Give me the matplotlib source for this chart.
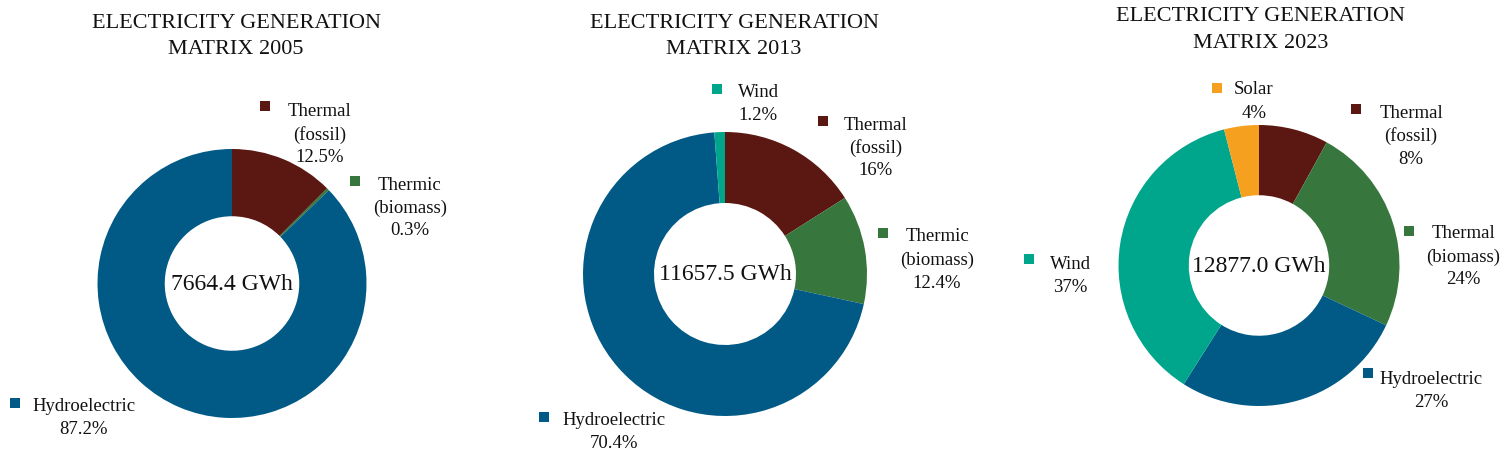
import matplotlib
matplotlib.use("Agg")
import matplotlib.pyplot as plt
from matplotlib.patches import Rectangle

W, H = 1502, 452
plt.rcParams['font.family'] = ['Liberation Serif', 'DejaVu Serif']

# ---------------- data ----------------
titles = ["ELECTRICITY GENERATION\nMATRIX 2005",
          "ELECTRICITY GENERATION\nMATRIX 2013",
          "ELECTRICITY GENERATION\nMATRIX 2023"]
totals = ["7664.4 GWh", "11657.5 GWh", "12877.0 GWh"]

cats_2005 = ["Thermal\n(fossil)", "Thermic\n(biomass)", "Hydroelectric"]
vals_2005 = [12.5, 0.3, 87.2]
pct_2005 = ["12.5%", "0.3%", "87.2%"]

cats_2013 = ["Thermal\n(fossil)", "Thermic\n(biomass)", "Hydroelectric", "Wind"]
vals_2013 = [16.0, 12.4, 70.4, 1.2]
pct_2013 = ["16%", "12.4%", "70.4%", "1.2%"]

cats_2023 = ["Thermal\n(fossil)", "Thermal\n(biomass)", "Hydroelectric", "Wind", "Solar"]
vals_2023 = [8, 24, 27, 37, 4]
pct_2023 = ["8%", "24%", "27%", "37%", "4%"]

# ---------------- styles ----------------
C_FOSSIL = "#5B1812"
C_BIO = "#37763C"
C_HYDRO = "#015A85"
C_WIND = "#00A68C"
C_SOLAR = "#F6A01F"
colors_2005 = [C_FOSSIL, C_BIO, C_HYDRO]
colors_2013 = [C_FOSSIL, C_BIO, C_HYDRO, C_WIND]
colors_2023 = [C_FOSSIL, C_BIO, C_HYDRO, C_WIND, C_SOLAR]

# geometry in pixels: centre x, centre y, radius
geoms = [(232, 284.5, 134.5), (725, 275, 142), (1259, 266.5, 140.5)]
# title: centre x, baseline of first line
title_pos = [(236, 28), (734, 28), (1261, 21)]
TITLE_LINE = 26.5
# label positions: (marker x, marker y, text centre x, first line y)
label_pos_2005 = [(265, 107, 320, 112), (355, 182, 410, 185), (15, 404, 84, 407)]
label_pos_2013 = [(823, 122, 876, 125), (883, 234, 937, 237), (544, 418, 614, 421), (717, 90, 758, 93)]
label_pos_2023 = [(1356, 110, 1411, 113), (1409, 232, 1463, 234), (1368, 374, 1431, 380),
                  (1029, 260, 1070, 265), (1217, 89, 1254, 90)]

charts = [
    (cats_2005, vals_2005, pct_2005, colors_2005, label_pos_2005),
    (cats_2013, vals_2013, pct_2013, colors_2013, label_pos_2013),
    (cats_2023, vals_2023, pct_2023, colors_2023, label_pos_2023),
]

fig = plt.figure(figsize=(W / 100, H / 100), dpi=100)
fig.patch.set_facecolor("white")


def fx(x):
    return x / W


def fy(y):
    return 1 - y / H


LINE = 23
MK = 10
for i, (cats, vals, pcts, cols, lpos) in enumerate(charts):
    cx, cy, r = geoms[i]
    ax = fig.add_axes([fx(cx - r), fy(cy + r), 2 * r / W, 2 * r / H])
    ax.pie(vals, colors=cols, startangle=90, counterclock=False, radius=1,
           wedgeprops=dict(width=0.5, linewidth=0))
    ax.set_xlim(-1, 1)
    ax.set_ylim(-1, 1)
    ax.set_aspect("equal")
    ax.axis("off")
    ax.text(0, 0, totals[i], ha="center", va="center", fontsize=17, color="#111111")

    tx, ty = title_pos[i]
    for k, line in enumerate(titles[i].split("\n")):
        fig.text(fx(tx), fy(ty + k * TITLE_LINE), line, ha="center", va="baseline",
                 fontsize=16, color="#111111")

    for cat, pct, col, (mx, my, lx, ly) in zip(cats, pcts, cols, lpos):
        fig.add_artist(Rectangle((fx(mx - MK / 2), fy(my + MK / 2)), MK / W, MK / H,
                                 transform=fig.transFigure, facecolor=col, edgecolor="none"))
        lines = cat.split("\n") + [pct]
        for k, line in enumerate(lines):
            fig.text(fx(lx), fy(ly + k * LINE), line, ha="center", va="center",
                     fontsize=13.5, color="#111111")

fig.savefig("out.png", dpi=100)
